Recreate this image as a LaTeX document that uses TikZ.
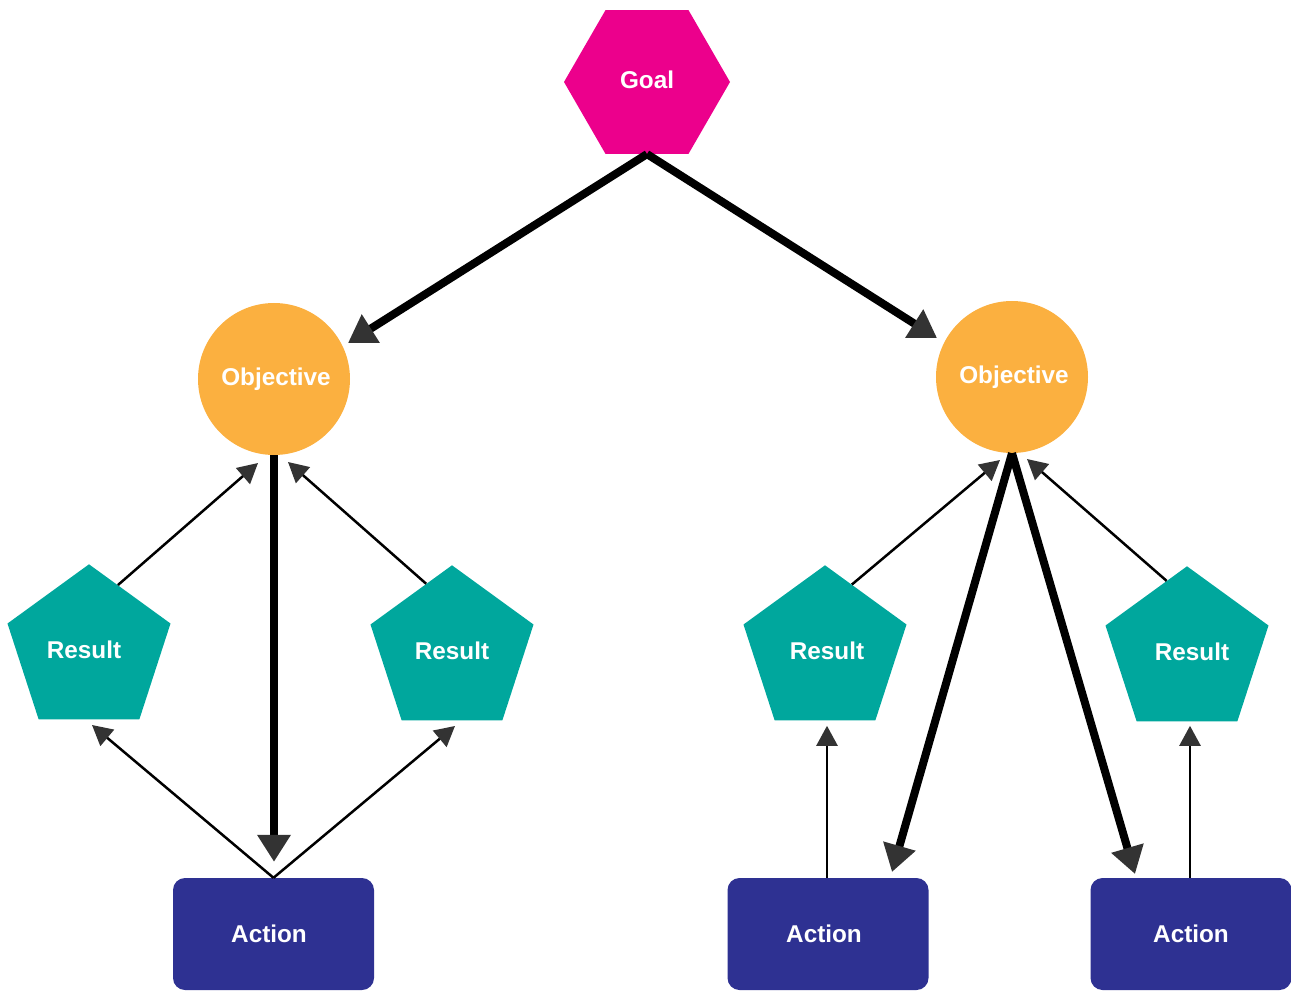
\documentclass[tikz,border=0pt]{standalone}
\usepackage{fontspec}
\setmainfont{Liberation Sans}
\usetikzlibrary{shapes.geometric,arrows.meta,calc}
\definecolor{goalc}{HTML}{EC008C}
\definecolor{objc}{HTML}{FBB040}
\definecolor{resc}{HTML}{00A79D}
\definecolor{actc}{HTML}{2E3192}
\definecolor{tipc}{HTML}{333333}
\tikzset{
  lbl/.style={text=white,font=\fontsize{24.3}{28}\selectfont\bfseries,inner sep=0pt},
  goalnode/.style={lbl,regular polygon,regular polygon sides=6,minimum size=166pt,fill=goalc},
  objnode/.style={lbl,circle,minimum size=152pt,fill=objc},
  resnode/.style={lbl,regular polygon,regular polygon sides=5,minimum size=171.4pt,fill=resc},
  actnode/.style={lbl,rectangle,rounded corners=12pt,minimum width=201pt,minimum height=112pt,fill=actc},
  thick arrow/.style={line width=8pt,black,-{Triangle[length=27pt,width=32pt,color=tipc]}},
  thin arrow/.style={line width=2.5pt,black,-{Triangle[length=20pt,width=21pt,color=tipc]}}
}
\begin{document}
\begin{tikzpicture}[x=1pt,y=-1pt]
\useasboundingbox (0,0) rectangle (1291,992);
\node[goalnode] (goal) at (647,82) {\raisebox{4pt}{Goal}};
\node[objnode] (objL) at (274,379) {\hspace*{4pt}Objective};
\node[objnode] (objR) at (1012,377) {\hspace*{4pt}Objective};
\node[resnode] (resL1) at (89,650) {\hspace*{-10pt}Result};
\node[resnode] (resL2) at (452,651) {Result};
\node[resnode] (resR1) at (825,651) {\hspace*{4pt}Result};
\node[resnode] (resR2) at (1187,652) {\hspace*{10pt}Result};
\node[actnode] (actL) at (273.5,934) {\hspace*{-9pt}Action};
\node[actnode] (actR1) at (828,934) {\hspace*{-8pt}\raisebox{1pt}{Action}};
\node[actnode] (actR2) at (1191,934) {Action};
% thin arrows
\draw[thin arrow] (resL1.66.7) -- ($(objL.center)+(-16,84)$);
\draw[thin arrow] (resL2.111.4) -- ($(objL.center)+(14,83)$);
\draw[thin arrow] (resR1.68.3) -- ($(objR.center)+(-12,83)$);
\draw[thin arrow] (resR2.106.8) -- ($(objR.center)+(15,82)$);
\draw[thin arrow] (actL.north) -- ($(resL1.center)+(3,75)$);
\draw[thin arrow] (actL.north) -- ($(resL2.center)+(3,75)$);
\draw[thin arrow] ($(actR1.north)+(-1,0)$) -- ($(actR1.north)+(-1,-152)$);
\draw[thin arrow] ($(actR2.north)+(-1,0)$) -- ($(actR2.north)+(-1,-152)$);
% thick arrows
\draw[thick arrow] (goal.south) -- ($(objL.center)+(74,-36)$);
\draw[thick arrow] (goal.south) -- ($(objR.center)+(-75,-39)$);
\draw[thick arrow] (objL.south) -- ($(actL.north)+(0.5,-16)$);
\draw[thick arrow] (objR.south) -- ($(actR1.center)+(64,-62)$);
\draw[thick arrow] (objR.south) -- ($(actR2.center)+(-56,-60)$);
\end{tikzpicture}
\end{document}
